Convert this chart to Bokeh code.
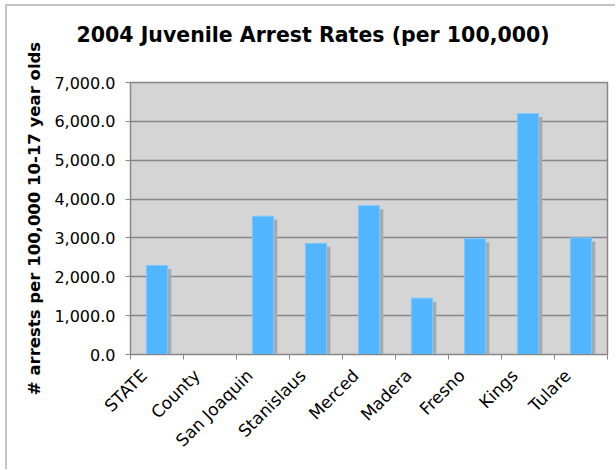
from bokeh.plotting import figure
from bokeh.models import ColumnDataSource, Range1d, FixedTicker, NumeralTickFormatter
from bokeh.transform import dodge
from bokeh.embed import file_html
from bokeh.resources import INLINE
import math

categories = ["STATE", "County", "San Joaquin", "Stanislaus", "Merced",
              "Madera", "Fresno", "Kings", "Tulare"]
rates = [2290.0, 0.0, 3560.0, 2860.0, 3830.0, 1450.0, 2980.0, 6200.0, 3000.0]
y_ticks = [0, 1000, 2000, 3000, 4000, 5000, 6000, 7000]

title_text = "2004 Juvenile Arrest Rates (per 100,000)"
y_label = "# arrests per 100,000 10-17 year olds"

n = len(categories)
xpos = [i + 0.5 for i in range(n)]
source = ColumnDataSource(dict(x=xpos, rate=rates, cat=categories))

# rotated labels sit a little left of the category centre
label_shift = -0.25
label_pos = [x + label_shift for x in xpos]

p = figure(width=610, height=465, x_range=Range1d(0, n), y_range=Range1d(0, 7000),
           output_backend="svg", toolbar_location=None,
           min_border_left=123, min_border_right=10, min_border_top=76,
           min_border_bottom=117)
p.styles = {"margin-left": "5px", "margin-top": "4px",
            "border-left": "2px solid #c4c4c4", "border-top": "2px solid #c4c4c4"}

p.title.text = title_text + "\n"
p.title.text_font = "DejaVu Sans"
p.title.text_font_style = "bold"
p.title.text_font_size = "20.5px"
p.title.text_color = "black"
p.title.align = "left"
p.title.vertical_align = "bottom"
p.title.offset = -54
p.title.standoff = 24

p.background_fill_color = "#d5d5d5"
p.border_fill_color = "white"
p.outline_line_color = "#888888"
p.outline_line_width = 1.5

# shadow
p.vbar(x=dodge("x", 0.07), top=dodge("rate", -90), bottom=0, width=0.4,
       source=source, fill_color="#a9a9a9", line_color=None)
# bars
p.vbar(x="x", top="rate", bottom=0, width=0.4, source=source,
       fill_color="#52b5ff", line_color="#7cc8ff", line_width=1)

p.xgrid.grid_line_color = None
p.ygrid.grid_line_color = "#888888"
p.ygrid.grid_line_width = 1.5
p.ygrid.ticker = FixedTicker(ticks=y_ticks)

p.yaxis.ticker = FixedTicker(ticks=y_ticks)
p.yaxis.formatter = NumeralTickFormatter(format="0,0.0")
p.yaxis.axis_label = y_label
p.yaxis.axis_label_text_font = "DejaVu Sans"
p.yaxis.axis_label_text_font_style = "bold"
p.yaxis.axis_label_text_font_size = "16.5px"
p.yaxis.axis_label_text_color = "black"
p.yaxis.axis_label_standoff = 7
p.yaxis.major_label_text_font = "DejaVu Sans"
p.yaxis.major_label_text_font_size = "16px"
p.yaxis.major_label_text_color = "black"
p.yaxis.major_label_standoff = 10
p.yaxis.major_tick_out = 5
p.yaxis.major_tick_in = 0
p.yaxis.minor_tick_line_color = None
p.yaxis.axis_line_color = "#888888"
p.yaxis.major_tick_line_color = "#888888"

p.xaxis.ticker = FixedTicker(ticks=label_pos, minor_ticks=list(range(n + 1)))
p.xaxis.major_label_overrides = {x: c for x, c in zip(label_pos, categories)}
p.xaxis.major_label_orientation = math.pi / 4
p.xaxis.major_label_text_font = "DejaVu Sans"
p.xaxis.major_label_text_font_size = "17px"
p.xaxis.major_label_text_color = "black"
p.xaxis.major_label_standoff = 13
p.xaxis.major_tick_out = 0
p.xaxis.major_tick_in = 0
p.xaxis.major_tick_line_color = None
p.xaxis.minor_tick_out = 5
p.xaxis.minor_tick_in = 0
p.xaxis.minor_tick_line_color = "#888888"
p.xaxis.axis_line_color = "#888888"

open("out.html", "w").write(file_html(p, INLINE))
